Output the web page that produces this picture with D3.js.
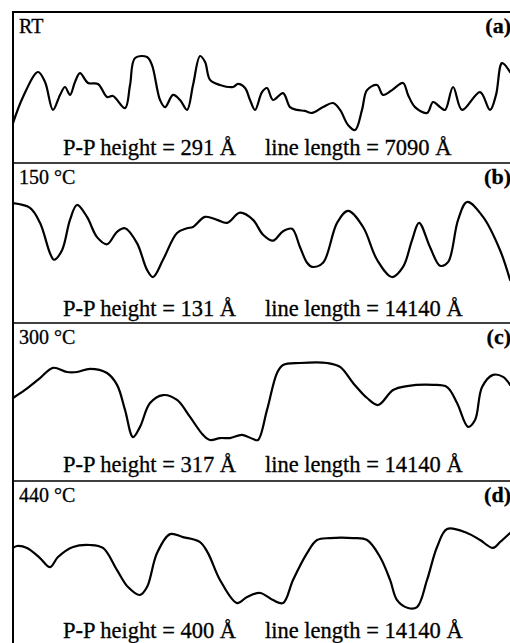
<!DOCTYPE html>
<html>
<head>
<meta charset="utf-8">
<script src="https://cdn.jsdelivr.net/npm/d3@7"></script>
<style>
  html, body { margin: 0; padding: 0; background: #fff; }
  svg { display: block; }
</style>
</head>
<body>
<div id="chart"></div>
<script>
// panel labels and measurement info
const panelIds = ['(a)', '(b)', '(c)', '(d)'];
const temperatures = ['RT', '150 °C', '300 °C', '440 °C'];
const ppHeights = [291, 131, 317, 400];      // Å
const lineLengths = [7090, 14140, 14140, 14140]; // Å

// surface profiles: [position along line (Å), height above lowest point (Å)]
const profileRT = [
  [0, 27], [142, 130], [355, 228], [455, 189], [568, 79], [668, 138], [739, 169],
  [810, 138], [881, 189], [952, 224], [1066, 185], [1208, 181], [1336, 130], [1421, 134],
  [1592, 86], [1663, 177], [1734, 283], [1904, 287], [1975, 255], [2089, 118], [2160, 90],
  [2274, 138], [2374, 118], [2473, 79], [2558, 177], [2658, 291], [2729, 267], [2800, 197],
  [2942, 177], [3126, 169], [3197, 181], [3297, 165], [3368, 118], [3439, 79], [3538, 149],
  [3609, 165], [3695, 118], [3837, 145], [3936, 90], [4035, 79], [4149, 75], [4249, 67],
  [4405, 90], [4547, 106], [4647, 79], [4760, 20], [4860, 0], [4959, 79], [5030, 157],
  [5172, 177], [5258, 138], [5385, 157], [5542, 185], [5613, 138], [5712, 90], [5883, 67],
  [5968, 110], [6068, 90], [6139, 79], [6253, 169], [6381, 79], [6636, 149], [6778, 79],
  [6863, 138], [6948, 263], [7062, 228]
];
const profile150 = [
  [0, 129], [482, 121], [765, 96], [1049, 45], [1162, 34], [1389, 50], [1615, 101],
  [1814, 126], [2097, 106], [2381, 72], [2664, 60], [2948, 81], [3174, 87], [3514, 62],
  [3798, 17], [3968, 5], [4251, 34], [4648, 79], [4931, 87], [5101, 89], [5441, 106],
  [5781, 101], [6065, 96], [6433, 113], [6802, 101], [7085, 76], [7368, 66], [7652, 82],
  [7907, 86], [8134, 55], [8332, 29], [8474, 22], [8786, 29], [9183, 96], [9495, 116],
  [9920, 89], [10316, 34], [10741, 5], [11053, 22], [11308, 67], [11506, 96], [11818, 55],
  [12101, 24], [12328, 30], [12612, 101], [12867, 131], [13320, 106], [13802, 50], [14085, 0]
];
const profile300 = [
  [0, 173], [340, 206], [765, 255], [1134, 297], [1530, 280], [1814, 280], [2182, 293],
  [2664, 276], [2948, 227], [3174, 124], [3401, 12], [3599, 54], [3883, 152], [4251, 185],
  [4648, 165], [5016, 95], [5385, 21], [5583, 0], [5866, 8], [6150, 8], [6490, 21],
  [6802, 4], [6943, 0], [7198, 124], [7482, 276], [7652, 309], [8134, 317], [8899, 317],
  [9268, 301], [9636, 235], [10033, 173], [10345, 144], [10770, 206], [11166, 222],
  [11903, 227], [12300, 218], [12583, 152], [12895, 54], [13093, 82], [13292, 218],
  [13603, 268], [13887, 260], [14085, 227]
];
const profile440 = [
  [0, 304], [113, 314], [397, 304], [765, 253], [1049, 207], [1275, 258], [1700, 309],
  [2182, 319], [2551, 304], [2948, 192], [3259, 106], [3599, 66], [3798, 106], [4081, 278],
  [4449, 374], [4818, 359], [5300, 334], [5526, 278], [5866, 142], [6348, 25], [6632, 56],
  [7000, 76], [7368, 40], [7652, 25], [7935, 142], [8332, 278], [8616, 344], [8984, 354],
  [9636, 354], [10033, 344], [10401, 258], [10685, 142], [10883, 40], [11195, 0],
  [11450, 5], [11733, 142], [12016, 309], [12300, 400], [12867, 380], [13235, 344],
  [13603, 304], [13802, 334], [14085, 380]
];
const profiles = [profileRT, profile150, profile300, profile440];

const width = 510, height = 643;
const frame = { left: 13, right: 512, top: 12 };
// panel layout (pixel bands)
const panelTops = [12, 163, 323, 481];
const bandTops = [56, 202, 363, 529];
const bandBottoms = [130, 280, 440, 608];
const footerY = [155, 316, 472, 638];

const serif = '"Liberation Serif", "Times New Roman", Times, serif';

const svg = d3.select('#chart')
  .append('svg')
  .attr('width', width)
  .attr('height', height)
  .style('background-color', '#fff');

// frame lines
svg.append('line')
  .attr('x1', frame.left).attr('x2', frame.left)
  .attr('y1', frame.top - 1).attr('y2', height)
  .attr('stroke', '#000').attr('stroke-width', 2);

svg.selectAll('line.divider')
  .data(panelTops)
  .join('line')
  .attr('class', 'divider')
  .attr('x1', frame.left).attr('x2', width)
  .attr('y1', d => d).attr('y2', d => d)
  .attr('stroke', '#000')
  .attr('stroke-width', (d, i) => i === 0 ? 2 : 1.6);

profiles.forEach((data, i) => {
  const x = d3.scaleLinear()
    .domain([0, lineLengths[i]])
    .range([frame.left, frame.right]);
  const y = d3.scaleLinear()
    .domain([0, ppHeights[i]])
    .range([bandBottoms[i], bandTops[i]]);

  const line = d3.line()
    .x(d => x(d[0]))
    .y(d => y(d[1]))
    .curve(d3.curveCatmullRom.alpha(0.5));

  const g = svg.append('g')
    .attr('font-family', serif)
    .attr('fill', '#000')
    .attr('stroke', '#000')
    .attr('stroke-width', 0.3);

  g.append('path')
    .datum(data)
    .attr('fill', 'none')
    .attr('stroke-width', 2.2)
    .attr('stroke-linejoin', 'round')
    .attr('stroke-linecap', 'round')
    .attr('d', line);

  g.append('text')
    .attr('x', 19)
    .attr('y', panelTops[i] + 21)
    .attr('font-size', 20)
    .text(temperatures[i]);

  g.append('text')
    .attr('x', 511)
    .attr('y', panelTops[i] + 21)
    .attr('text-anchor', 'end')
    .attr('font-weight', 'bold')
    .attr('font-size', 22)
    .text(panelIds[i]);

  g.append('text')
    .attr('x', 63)
    .attr('y', footerY[i])
    .attr('font-size', 22.5)
    .text(`P-P height = ${ppHeights[i]} Å`);

  g.append('text')
    .attr('x', 265)
    .attr('y', footerY[i])
    .attr('font-size', 22.5)
    .text(`line length = ${lineLengths[i]} Å`);
});
</script>
</body>
</html>
